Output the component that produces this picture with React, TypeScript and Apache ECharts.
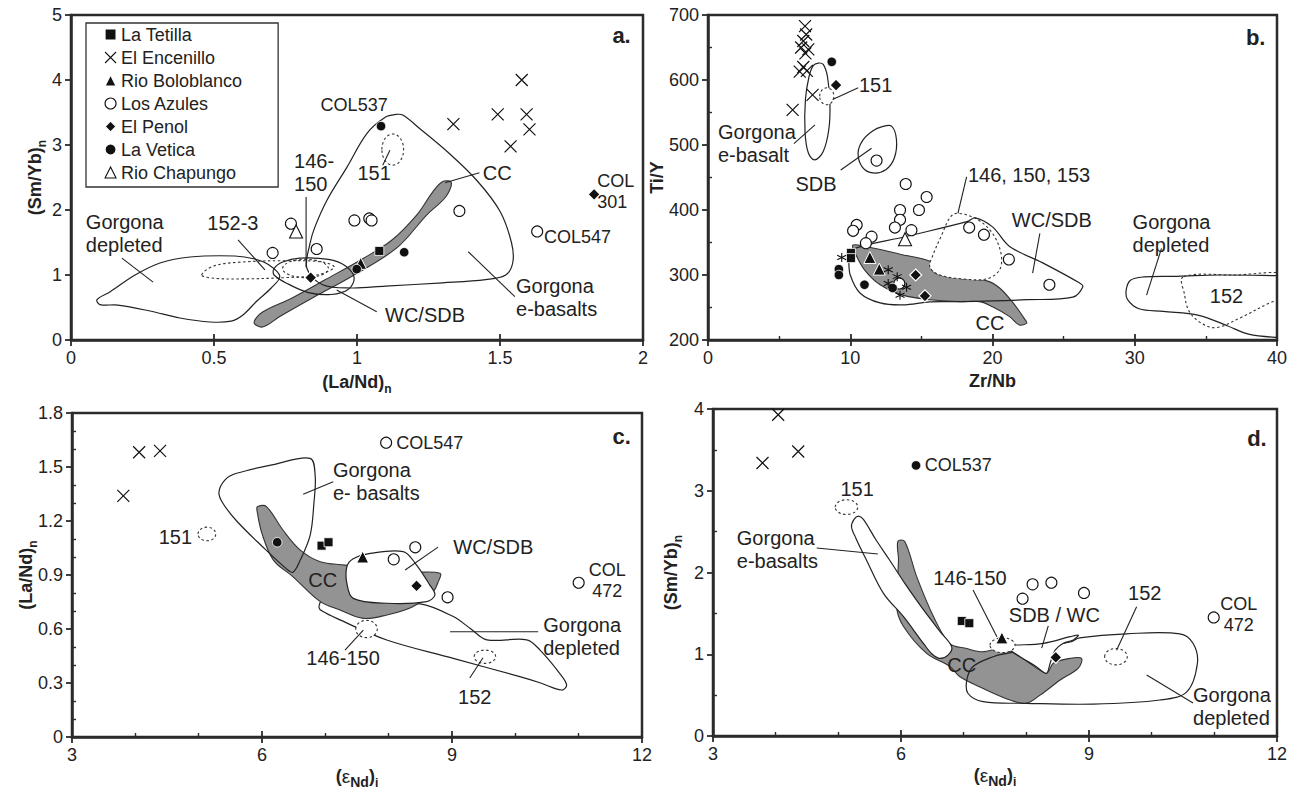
import React, { useEffect, useRef } from "react";
import * as echarts from "echarts";

const FONT = "'Liberation Sans', Arial, Helvetica, sans-serif";
const INK = "#222";
const FRAME = "#2b2b2b";
const GREY = "#939393";
const CROSS = "path://M0,0L10,10M10,0L0,10";
const STAR = "path://M5,0L5,10M0.7,2.5L9.3,7.5M0.7,7.5L9.3,2.5";

// ---------- tick labels ----------
const A_X_TICKS = ["0", "0.5", "1", "1.5", "2"];
const A_Y_TICKS = ["0", "1", "2", "3", "4", "5"];
const B_X_TICKS = ["0", "10", "20", "30", "40"];
const B_Y_TICKS = ["200", "300", "400", "500", "600", "700"];
const C_X_TICKS = ["3", "6", "9", "12"];
const C_Y_TICKS = ["0", "0.3", "0.6", "0.9", "1.2", "1.5", "1.8"];
const D_X_TICKS = ["3", "6", "9", "12"];
const D_Y_TICKS = ["0", "1", "2", "3", "4"];

// ---------- sample groups ----------
const GROUP_NAMES = ["La Tetilla", "El Encenillo", "Rio Boloblanco", "Los Azules", "El Penol", "La Vetica", "Rio Chapungo"];

// ---------- panel a : (La/Nd)n vs (Sm/Yb)n ----------
const A_TETILLA = [[1.078, 1.37]];
const A_ENCENILLO = [[1.337, 3.32], [1.492, 3.47], [1.576, 4.0], [1.593, 3.47], [1.603, 3.24], [1.537, 2.98]];
const A_BOLOBLANCO = [[1.013, 1.18]];
const A_AZULES = [[0.705, 1.34], [0.769, 1.79], [0.859, 1.4], [0.991, 1.84], [1.043, 1.87], [1.051, 1.84], [1.358, 1.985], [1.63, 1.67]];
const A_PENOL = [[0.838, 0.96], [1.829, 2.24]];
const A_VETICA = [[1.084, 3.29], [0.999, 1.09], [1.165, 1.35]];
const A_CHAPUNGO = [[0.787, 1.67]];

const A_GORG_DEP = [[0.091, 0.62], [0.136, 0.74], [0.224, 1.0], [0.311, 1.185], [0.416, 1.277], [0.573, 1.292], [0.643, 1.246], [0.69, 1.16], [0.73, 0.98], [0.7, 0.8], [0.65, 0.6], [0.6, 0.38], [0.56, 0.29], [0.486, 0.277], [0.381, 0.338], [0.276, 0.446], [0.164, 0.538], [0.101, 0.545]];
const A_152_3 = [[0.457, 1.0], [0.5, 1.14], [0.6, 1.2], [0.75, 1.22], [0.88, 1.2], [0.92, 1.12], [0.86, 1.0], [0.75, 0.96], [0.6, 0.94], [0.5, 0.95]];
const A_WCSDB = [[0.71, 1.1], [0.74, 1.2], [0.8, 1.26], [0.9, 1.24], [0.96, 1.14], [0.99, 0.96], [0.97, 0.78], [0.91, 0.7], [0.83, 0.73], [0.76, 0.86], [0.71, 1.0]];
const A_CC = [[0.64, 0.27], [0.67, 0.43], [0.77, 0.64], [0.89, 0.93], [1.02, 1.25], [1.12, 1.53], [1.21, 1.93], [1.265, 2.28], [1.3, 2.44], [1.33, 2.42], [1.31, 2.2], [1.245, 1.93], [1.14, 1.42], [0.99, 1.0], [0.85, 0.66], [0.73, 0.36], [0.67, 0.2]];
const A_EBAS = [[0.825, 1.1], [0.836, 1.49], [0.853, 1.74], [0.895, 2.15], [0.965, 2.66], [1.035, 3.18], [1.1, 3.43], [1.135, 3.47], [1.16, 3.46], [1.22, 3.25], [1.32, 2.88], [1.42, 2.45], [1.5, 1.98], [1.54, 1.5], [1.545, 1.2], [1.52, 1.0], [1.45, 0.93], [1.3, 0.88], [1.1, 0.83], [0.98, 0.8], [0.88, 0.85]];
const A_146_150 = [0.82, 1.1, 0.08, 0.14];
const A_151 = [1.125, 2.93, 0.038, 0.24];

// ---------- panel b : Zr/Nb vs Ti/Y ----------
const B_TETILLA = [[10.05, 334], [10.05, 326]];
const B_ENCENILLO = [[6.82, 683], [6.9, 670], [6.7, 660], [6.55, 650], [7.05, 647], [6.85, 641], [6.45, 613], [6.95, 614], [6.7, 620], [7.35, 577], [5.95, 554]];
const B_BOLOBLANCO = [[11.38, 327], [12.04, 309]];
const B_AZULES = [[13.9, 440], [15.37, 420], [13.5, 400], [14.83, 400], [13.5, 385], [13.14, 373], [14.3, 369], [10.45, 377], [10.2, 368], [11.5, 359], [11.1, 349], [18.36, 373], [19.4, 362], [21.15, 324], [24.0, 285], [11.85, 476], [13.45, 287]];
const B_PENOL = [[9.0, 592], [14.6, 300], [15.25, 268]];
const B_VETICA = [[8.7, 628], [9.2, 309], [9.2, 300], [11.0, 285], [12.98, 280]];
const B_CHAPUNGO = [[13.85, 355]];
const B_STAR = [[9.4, 327], [12.67, 308], [13.3, 297.5], [12.67, 287], [13.96, 281], [13.5, 269]];

const B_EBAS = [[7.75, 626], [8.1, 624], [8.4, 605], [8.57, 565], [8.5, 525], [8.1, 490], [7.5, 477], [7.05, 488], [6.82, 520], [6.85, 570], [7.1, 605], [7.4, 622]];
const B_151 = [8.35, 575, 0.5, 13];
const B_SDB = [[12.2, 528], [12.9, 529], [13.25, 508], [13.1, 480], [12.5, 462], [11.6, 457], [10.85, 466], [10.55, 488], [10.9, 508], [11.6, 522]];
const B_WCSDB = [[9.93, 338], [14.0, 359.6], [18.2, 382], [18.8, 388], [20.0, 374], [21.2, 344], [23.5, 319], [26.1, 288], [26.35, 282], [25.65, 266], [22.4, 262], [17.7, 259], [15.6, 258.6], [13.7, 254], [12.1, 257], [10.7, 272], [10.0, 300], [9.9, 323]];
const B_CC = [[10.2, 346], [11.5, 342], [13.5, 332], [15.6, 321], [15.7, 309], [16.3, 300], [17.9, 294], [19.6, 291], [20.5, 280], [21.45, 257], [22.3, 231], [22.4, 226], [21.9, 223], [21.2, 236], [20.0, 251], [19.1, 259], [17.7, 259], [15.6, 262], [13.7, 269], [12.1, 285], [11.0, 308], [10.4, 331]];
const B_146 = [[15.6, 312], [15.8, 330], [16.4, 360], [17.0, 388], [17.5, 395], [18.9, 386], [20.0, 364], [20.6, 333], [20.5, 308], [19.6, 294], [17.9, 294], [16.3, 300]];
const B_GORG_DEP = [[29.4, 277], [29.7, 292], [30.6, 297], [33, 298], [36, 300], [40, 299], [42, 298], [42, 204], [40, 204], [38, 209], [36.5, 222], [34.5, 238], [32, 244], [30.3, 248], [29.5, 262]];
const B_152 = [[33.4, 297], [33.5, 270], [33.8, 245], [34.6, 227], [35.7, 219], [37.5, 235], [39.7, 259], [41, 266], [41, 300], [37, 300]];

// ---------- panel c : (eNd)i vs (La/Nd)n ----------
const C_TETILLA = [[6.94, 1.063], [7.05, 1.082]];
const C_ENCENILLO = [[4.06, 1.582], [4.39, 1.59], [3.81, 1.34]];
const C_BOLOBLANCO = [[7.59, 1.0]];
const C_AZULES = [[7.96, 1.635], [8.08, 0.987], [8.42, 1.054], [8.93, 0.776], [11.0, 0.857]];
const C_PENOL = [[8.44, 0.84]];
const C_VETICA = [[6.24, 1.082]];

const C_EBAS = [[5.32, 1.36], [5.42, 1.43], [5.6, 1.465], [6.2, 1.515], [6.76, 1.548], [6.84, 1.45], [6.82, 1.3], [6.76, 1.12], [6.6, 0.98], [6.49, 0.915], [6.4, 0.93], [6.0, 1.06], [5.6, 1.2], [5.38, 1.3]];
const C_CC = [[5.93, 1.28], [6.07, 1.28], [6.33, 1.15], [6.6, 1.04], [6.92, 0.974], [7.31, 0.955], [7.8, 0.93], [8.3, 0.915], [8.81, 0.91], [8.78, 0.86], [8.7, 0.807], [8.38, 0.724], [7.97, 0.678], [7.6, 0.659], [7.23, 0.706], [6.92, 0.752], [6.49, 0.89], [6.18, 0.983], [6.0, 1.13], [5.92, 1.26]];
const C_WCSDB = [[7.34, 0.946], [7.44, 0.99], [7.71, 1.02], [8.23, 1.03], [8.42, 0.965], [8.65, 0.844], [8.73, 0.789], [8.6, 0.752], [7.97, 0.743], [7.44, 0.77], [7.34, 0.854]];
const C_GORG_DEP = [[6.9, 0.72], [6.95, 0.76], [7.1, 0.75], [7.5, 0.73], [8.0, 0.72], [8.5, 0.74], [9.02, 0.669], [9.3, 0.6], [9.55, 0.54], [10.18, 0.54], [10.39, 0.483], [10.7, 0.354], [10.81, 0.289], [10.73, 0.261], [10.4, 0.3], [10.07, 0.335], [9.02, 0.437], [7.97, 0.539], [7.18, 0.659], [6.95, 0.7]];
const C_151 = [5.13, 1.128, 0.14, 0.038];
const C_146 = [7.65, 0.6, 0.17, 0.048];
const C_152 = [9.52, 0.446, 0.17, 0.037];

// ---------- panel d : (eNd)i vs (Sm/Yb)n ----------
const D_TETILLA = [[6.97, 1.407], [7.09, 1.38]];
const D_ENCENILLO = [[4.04, 3.93], [3.79, 3.34], [4.36, 3.48]];
const D_BOLOBLANCO = [[7.61, 1.2]];
const D_AZULES = [[7.94, 1.68], [8.1, 1.855], [8.4, 1.875], [8.92, 1.75], [10.99, 1.45]];
const D_PENOL = [[8.47, 0.962]];
const D_VETICA = [[6.24, 3.31]];

const D_CC = [[5.95, 2.38], [6.06, 2.38], [6.25, 1.95], [6.52, 1.46], [6.78, 1.13], [7.05, 1.07], [7.3, 1.03], [7.63, 1.07], [7.9, 0.97], [8.32, 0.77], [8.43, 0.89], [8.7, 0.95], [8.88, 0.95], [8.83, 0.83], [8.54, 0.685], [8.22, 0.5], [8.0, 0.4], [7.74, 0.44], [7.26, 0.6], [6.94, 0.725], [6.78, 0.85], [6.41, 1.01], [6.04, 1.34], [5.93, 1.58], [5.96, 2.15]];
const D_GORG_DEP = [[7.69, 1.01], [7.47, 0.97], [7.15, 0.85], [7.05, 0.685], [7.07, 0.52], [7.31, 0.42], [8.0, 0.4], [9.07, 0.39], [10.13, 0.44], [10.56, 0.54], [10.73, 0.89], [10.66, 1.134], [10.45, 1.25], [9.6, 1.25], [8.85, 1.2], [8.7, 1.15]];
const D_EBAS = [[5.21, 2.56], [5.25, 2.65], [5.32, 2.69], [5.4, 2.65], [5.6, 2.4], [5.82, 2.15], [6.05, 1.88], [6.25, 1.66], [6.45, 1.45], [6.62, 1.28], [6.81, 1.09], [6.75, 0.99], [6.62, 0.95], [6.5, 1.0], [6.36, 1.13], [6.04, 1.46], [5.72, 1.745], [5.45, 2.15], [5.28, 2.42]];
const D_SDBWC = [[7.71, 1.113], [7.85, 1.113], [8.27, 1.134], [8.7, 1.215], [8.83, 1.235], [8.75, 1.174], [8.59, 1.134], [8.46, 1.05], [8.38, 0.89], [8.32, 0.767], [8.16, 0.848], [7.9, 0.97], [7.71, 1.07]];
const D_151 = [5.13, 2.8, 0.18, 0.09];
const D_146 = [7.62, 1.11, 0.2, 0.09];
const D_152 = [9.43, 0.97, 0.18, 0.1];

// ---------- annotations (data coordinates) ----------
const A_LABELS = [
  { t: "a.", x: 1.925, y: 4.69, al: "center", b: true, fs: 22 },
  { t: "COL537", x: 0.99, y: 3.62, al: "center", fs: 18 },
  { t: "146-\n150", x: 0.78, y: 2.57, al: "left" },
  { t: "151", x: 1.06, y: 2.57, al: "center" },
  { t: "CC", x: 1.44, y: 2.57, al: "left" },
  { t: "COL\n301", x: 1.84, y: 2.28, al: "left", fs: 18, lh: 21 },
  { t: "COL547", x: 1.654, y: 1.585, al: "left", fs: 18 },
  { t: "Gorgona\ne-basalts", x: 1.556, y: 0.66, al: "left" },
  { t: "WC/SDB", x: 1.098, y: 0.385, al: "left" },
  { t: "Gorgona\ndepleted", x: 0.052, y: 1.64, al: "left" },
  { t: "152-3", x: 0.566, y: 1.8, al: "center" },
];
const A_LEADERS = [[0.822, 2.2, 0.822, 1.12], [1.09, 2.69, 1.115, 2.92], [1.308, 2.42, 1.428, 2.574], [1.389, 1.358, 1.552, 0.666], [1.069, 0.436, 0.929, 0.77], [0.178, 1.26, 0.287, 0.89], [0.584, 1.54, 0.678, 1.08]];

const B_LABELS = [
  { t: "b.", x: 38.5, y: 666, al: "center", b: true, fs: 22 },
  { t: "151", x: 10.61, y: 592, al: "left" },
  { t: "Gorgona\ne-basalt", x: 0.7, y: 503, al: "left" },
  { t: "SDB", x: 7.59, y: 440, al: "center" },
  { t: "146, 150, 153", x: 18.27, y: 454, al: "left" },
  { t: "WC/SDB", x: 24.17, y: 385, al: "center" },
  { t: "Gorgona\ndepleted", x: 29.85, y: 364.6, al: "left" },
  { t: "152", x: 36.45, y: 267, al: "center" },
  { t: "CC", x: 19.82, y: 226.6, al: "center" },
];
const B_LEADERS = [[8.76, 570, 10.56, 588], [6.04, 502, 7.52, 531], [9.33, 461.5, 11.5, 495], [18.18, 451, 17.57, 395], [23.33, 364, 22.82, 303], [31.88, 341, 30.83, 269]];

const C_LABELS = [
  { t: "c.", x: 11.68, y: 1.668, al: "center", b: true, fs: 22 },
  { t: "COL547", x: 8.12, y: 1.633, al: "left", fs: 18 },
  { t: "Gorgona\ne- basalts", x: 7.12, y: 1.42, al: "left" },
  { t: "151", x: 4.895, y: 1.11, al: "right" },
  { t: "WC/SDB", x: 9.02, y: 1.055, al: "left" },
  { t: "CC", x: 6.96, y: 0.87, al: "center" },
  { t: "COL\n472", x: 11.45, y: 0.872, al: "center", fs: 18, lh: 21 },
  { t: "Gorgona\ndepleted", x: 10.44, y: 0.56, al: "left" },
  { t: "146-150", x: 7.28, y: 0.44, al: "center" },
  { t: "152", x: 9.36, y: 0.222, al: "center" },
];
const C_LEADERS = [[6.65, 1.348, 7.125, 1.418], [8.78, 1.055, 8.26, 0.928], [8.97, 0.585, 10.36, 0.585], [7.31, 0.483, 7.6, 0.594], [9.28, 0.328, 9.49, 0.44]];

const D_LABELS = [
  { t: "d.", x: 11.68, y: 3.645, al: "center", b: true, fs: 22 },
  { t: "COL537", x: 6.38, y: 3.315, al: "left", fs: 18 },
  { t: "151", x: 5.3, y: 3.02, al: "center" },
  { t: "Gorgona\ne-basalts", x: 3.38, y: 2.28, al: "left" },
  { t: "146-150", x: 7.1, y: 1.93, al: "center" },
  { t: "SDB / WC", x: 7.72, y: 1.48, al: "left" },
  { t: "152", x: 9.89, y: 1.75, al: "center" },
  { t: "COL\n472", x: 11.39, y: 1.49, al: "center", fs: 18, lh: 21 },
  { t: "Gorgona\ndepleted", x: 10.66, y: 0.355, al: "left" },
  { t: "CC", x: 6.97, y: 0.87, al: "center" },
];
const D_LEADERS = [[4.655, 2.3, 5.63, 2.226], [7.15, 1.786, 7.53, 1.215], [8.35, 1.346, 8.245, 1.076], [9.76, 1.58, 9.44, 1.05], [9.92, 0.746, 10.66, 0.404]];

// ---------- styles ----------
const GROUP_STYLE: Record<string, any> = {
  "La Tetilla": { symbol: "rect", size: 9, color: "#111", border: "#fff", bw: 0.8 },
  "El Encenillo": { symbol: CROSS, size: 12, color: "rgba(0,0,0,0)", border: "#111", bw: 1.2 },
  "Rio Boloblanco": { symbol: "triangle", size: 12, color: "#111", border: "#fff", bw: 1 },
  "Los Azules": { symbol: "circle", size: 11, color: "#fff", border: "#111", bw: 1.1 },
  "El Penol": { symbol: "diamond", size: 12, color: "#111", border: "#fff", bw: 1.2 },
  "La Vetica": { symbol: "circle", size: 9.5, color: "#111", border: "#fff", bw: 0.8 },
  "Rio Chapungo": { symbol: "triangle", size: 13, color: "#fff", border: "#111", bw: 1.1 },
  asterisk: { symbol: STAR, size: 9, color: "rgba(0,0,0,0)", border: "#111", bw: 1.1 },
};

const EPS = "{m|(}{e|ε}{s2|Nd}{m|)}{s|i}";

const PANELS = [
  {
    grid: { left: 71, top: 15, width: 572, height: 325 },
    x: { min: 0, max: 2, interval: 0.5, ticks: A_X_TICKS, minor: 0 },
    y: { min: 0, max: 5, interval: 1, ticks: A_Y_TICKS, minor: 0 },
    xName: "{m|(La/Nd)}{s|n}", yName: "{m|(Sm/Yb)}{s|n}", xGap: 33, yGap: 27,
    points: { "La Tetilla": A_TETILLA, "El Encenillo": A_ENCENILLO, "Rio Boloblanco": A_BOLOBLANCO, "Los Azules": A_AZULES, "El Penol": A_PENOL, "La Vetica": A_VETICA, "Rio Chapungo": A_CHAPUNGO },
    fields: [
      { pts: A_CC, kind: "grey" }, { pts: A_GORG_DEP, kind: "open" }, { pts: A_152_3, kind: "dot" },
      { pts: A_WCSDB, kind: "open" }, { pts: A_EBAS, kind: "open" }, { ell: A_146_150, kind: "dot" }, { ell: A_151, kind: "dotW" },
    ],
    labels: A_LABELS, leaders: A_LEADERS,
  },
  {
    grid: { left: 708, top: 15, width: 569, height: 325 },
    x: { min: 0, max: 40, interval: 10, ticks: B_X_TICKS, minor: 2 },
    y: { min: 200, max: 700, interval: 100, ticks: B_Y_TICKS, minor: 2 },
    xName: "{m|Zr/Nb}", yName: "{m|Ti/Y}", xGap: 32, yGap: 42,
    points: { "La Tetilla": B_TETILLA, "El Encenillo": B_ENCENILLO, "Rio Boloblanco": B_BOLOBLANCO, "Los Azules": B_AZULES, "El Penol": B_PENOL, "La Vetica": B_VETICA, "Rio Chapungo": B_CHAPUNGO, asterisk: B_STAR },
    fields: [
      { pts: B_CC, kind: "grey" }, { pts: B_146, kind: "dotW" }, { pts: B_WCSDB, kind: "open" },
      { pts: B_EBAS, kind: "open" }, { ell: B_151, kind: "dotW" }, { pts: B_SDB, kind: "open" },
      { pts: B_GORG_DEP, kind: "open" }, { pts: B_152, kind: "dot" },
    ],
    labels: B_LABELS, leaders: B_LEADERS,
  },
  {
    grid: { left: 72, top: 413, width: 570, height: 324 },
    x: { min: 3, max: 12, interval: 3, ticks: C_X_TICKS, minor: 3 },
    y: { min: 0, max: 1.8, interval: 0.3, ticks: C_Y_TICKS, minor: 3 },
    xName: EPS, yName: "{m|(La/Nd)}{s|n}", xGap: 30, yGap: 37,
    points: { "La Tetilla": C_TETILLA, "El Encenillo": C_ENCENILLO, "Rio Boloblanco": C_BOLOBLANCO, "Los Azules": C_AZULES, "El Penol": C_PENOL, "La Vetica": C_VETICA },
    fields: [
      { pts: C_GORG_DEP, kind: "white" }, { pts: C_CC, kind: "grey" }, { pts: C_WCSDB, kind: "white" },
      { pts: C_EBAS, kind: "open" }, { ell: C_151, kind: "dotW" }, { ell: C_146, kind: "dotW" }, { ell: C_152, kind: "dotW" },
    ],
    labels: C_LABELS, leaders: C_LEADERS,
  },
  {
    grid: { left: 713, top: 409, width: 564, height: 327 },
    x: { min: 3, max: 12, interval: 3, ticks: D_X_TICKS, minor: 3 },
    y: { min: 0, max: 4, interval: 1, ticks: D_Y_TICKS, minor: 2 },
    xName: EPS, yName: "{m|(Sm/Yb)}{s|n}", xGap: 30, yGap: 33,
    points: { "La Tetilla": D_TETILLA, "El Encenillo": D_ENCENILLO, "Rio Boloblanco": D_BOLOBLANCO, "Los Azules": D_AZULES, "El Penol": D_PENOL, "La Vetica": D_VETICA },
    fields: [
      { pts: D_CC, kind: "grey" }, { pts: D_GORG_DEP, kind: "open" }, { pts: D_EBAS, kind: "white" },
      { pts: D_SDBWC, kind: "white" }, { ell: D_151, kind: "dotW" }, { ell: D_146, kind: "dotW" }, { ell: D_152, kind: "dotW" },
    ],
    labels: D_LABELS, leaders: D_LEADERS,
  },
];

const NAME_STYLE = {
  fontFamily: FONT, fontSize: 18, fontWeight: "bold", color: INK,
  rich: {
    m: { fontFamily: FONT, fontSize: 18, fontWeight: "bold", color: INK, lineHeight: 18, verticalAlign: "top" },
    e: { fontFamily: FONT, fontSize: 19, fontWeight: "normal", color: INK, lineHeight: 18, verticalAlign: "top" },
    s: { fontFamily: FONT, fontSize: 12, fontWeight: "bold", color: INK, lineHeight: 12, padding: [10, 0, 0, 0], verticalAlign: "top" },
    s2: { fontFamily: FONT, fontSize: 14, fontWeight: "bold", color: INK, lineHeight: 14, padding: [8, 0, 0, 0], verticalAlign: "top" },
  },
};

function fieldStyle(kind: string): any {
  if (kind === "grey") return { fill: GREY, stroke: "#333", lineWidth: 1.1 };
  if (kind === "white") return { fill: "#fff", stroke: "#222", lineWidth: 1.2 };
  if (kind === "open") return { fill: "none", stroke: "#222", lineWidth: 1.2 };
  if (kind === "dotW") return { fill: "#fff", stroke: "#333", lineWidth: 1.1, lineDash: [2.5, 2.5] };
  return { fill: "none", stroke: "#333", lineWidth: 1.1, lineDash: [2.5, 2.5] };
}

function tickFmt(ax: any) {
  return (v: number) => {
    const i = Math.round((v - ax.min) / ax.interval);
    return ax.ticks[i] ?? "";
  };
}

function buildOption() {
  const grid: any[] = [];
  const xAxis: any[] = [];
  const yAxis: any[] = [];
  const series: any[] = [];
  const axisLabel = (ax: any) => ({
    show: true, margin: 9, fontSize: 18, fontFamily: FONT, color: INK,
    formatter: tickFmt(ax), showMinLabel: true, showMaxLabel: true,
  });

  PANELS.forEach((P, i) => {
    grid.push({
      ...P.grid, show: true, borderColor: FRAME, borderWidth: 2.5, backgroundColor: "#fff",
      containLabel: false, outerBoundsMode: "none",
    });
    xAxis.push({
      type: "value", gridIndex: i, position: "bottom", min: P.x.min, max: P.x.max, interval: P.x.interval,
      axisLine: { show: true, onZero: false, lineStyle: { color: FRAME, width: 2.5 } },
      axisTick: { show: true, length: 6, lineStyle: { color: FRAME, width: 1.8 } },
      axisLabel: axisLabel(P.x), splitLine: { show: false }, minorTick: { show: false },
      name: P.xName, nameLocation: "middle", nameGap: P.xGap, nameTextStyle: NAME_STYLE, nameMoveOverlap: false,
    });
    yAxis.push({
      type: "value", gridIndex: i, position: "left", min: P.y.min, max: P.y.max, interval: P.y.interval,
      axisLine: { show: true, onZero: false, lineStyle: { color: FRAME, width: 2.5 } },
      axisTick: { show: true, length: 6, lineStyle: { color: FRAME, width: 1.8 } },
      axisLabel: axisLabel(P.y), splitLine: { show: false }, minorTick: { show: false },
      name: P.yName, nameLocation: "middle", nameGap: P.yGap, nameTextStyle: NAME_STYLE, nameMoveOverlap: false,
    });
  });
  // inner tick axes (ticks pointing into the plot)
  PANELS.forEach((P, i) => {
    xAxis.push({
      type: "value", gridIndex: i, position: "top", offset: -P.grid.height,
      min: P.x.min, max: P.x.max, interval: P.x.interval,
      axisLine: { show: false, onZero: false }, axisLabel: { show: false }, splitLine: { show: false },
      axisTick: { show: true, length: 6, lineStyle: { color: FRAME, width: 1.8 } },
      minorTick: { show: P.x.minor > 0, splitNumber: P.x.minor || 2, length: 4, lineStyle: { color: FRAME, width: 1.4 } },
    });
    yAxis.push({
      type: "value", gridIndex: i, position: "right", offset: -P.grid.width,
      min: P.y.min, max: P.y.max, interval: P.y.interval,
      axisLine: { show: false, onZero: false }, axisLabel: { show: false }, splitLine: { show: false },
      axisTick: { show: false },
      minorTick: { show: P.y.minor > 0, splitNumber: P.y.minor || 2, length: 4, lineStyle: { color: FRAME, width: 1.4 } },
    });
  });

  PANELS.forEach((P, i) => {
    // fields
    P.fields.forEach((f: any) => {
      const style = fieldStyle(f.kind);
      if (f.pts) {
        const pts = f.pts;
        series.push({
          type: "custom", name: "field", xAxisIndex: i, yAxisIndex: i, clip: true, silent: true, z: 2,
          data: pts,
          renderItem: (params: any, api: any) => {
            if (params.dataIndex !== 0) return null;
            return { type: "polygon", shape: { points: pts.map((p: number[]) => api.coord(p)), smooth: 0.35 }, style };
          },
        });
      } else {
        series.push({
          type: "custom", name: "field", xAxisIndex: i, yAxisIndex: i, clip: true, silent: true, z: 2,
          data: [f.ell], encode: { x: 0, y: 1 },
          renderItem: (params: any, api: any) => {
            const c = api.coord([api.value(0), api.value(1)]);
            const s = api.size([api.value(2), api.value(3)]);
            return { type: "ellipse", shape: { cx: c[0], cy: c[1], rx: s[0], ry: s[1] }, style };
          },
        });
      }
    });
    // points
    Object.keys(P.points).forEach((name) => {
      const g = GROUP_STYLE[name];
      series.push({
        type: "scatter", name, xAxisIndex: i, yAxisIndex: i, silent: true, z: 4,
        data: (P.points as any)[name], symbol: g.symbol, symbolSize: g.size,
        itemStyle: { color: g.color, borderColor: g.border, borderWidth: g.bw, opacity: 1 },
      });
    });
    // leaders
    series.push({
      type: "custom", name: "leader", xAxisIndex: i, yAxisIndex: i, silent: true, z: 5,
      dimensions: ["x1", "y1", "x2", "y2"], encode: { x: [0, 2], y: [1, 3] },
      data: P.leaders,
      renderItem: (params: any, api: any) => {
        const a = api.coord([api.value(0), api.value(1)]);
        const b = api.coord([api.value(2), api.value(3)]);
        return { type: "line", shape: { x1: a[0], y1: a[1], x2: b[0], y2: b[1] }, style: { stroke: "#222", lineWidth: 1.1 } };
      },
    });
    // labels
    const labels = P.labels;
    series.push({
      type: "custom", name: "label", xAxisIndex: i, yAxisIndex: i, silent: true, z: 6,
      data: labels.map((l: any) => [l.x, l.y]),
      renderItem: (params: any, api: any) => {
        const l: any = labels[params.dataIndex];
        const p = api.coord([api.value(0), api.value(1)]);
        const al = l.al || "left";
        return {
          type: "text", x: p[0], y: p[1],
          style: {
            text: l.t, fill: INK, fontSize: l.fs || 20, fontFamily: FONT, fontWeight: l.b ? "bold" : "normal",
            align: al, verticalAlign: "middle", textAlign: al, textVerticalAlign: "middle", lineHeight: l.lh || 23,
          },
        };
      },
    });
  });

  return {
    animation: false,
    backgroundColor: "#fff",
    grid, xAxis, yAxis, series,
    legend: {
      data: GROUP_NAMES, orient: "vertical", left: 86, top: 23,
      itemWidth: 11, itemHeight: 11, itemGap: 4, padding: [2, 36, 5, 18.5],
      borderColor: "#333", borderWidth: 1.3, backgroundColor: "#fff",
      selectedMode: false, z: 20,
      itemStyle: { borderWidth: 1.1 },
      textStyle: { fontSize: 18, fontFamily: FONT, color: INK, lineHeight: 19 },
    },
  };
}

export default function App() {
  const ref = useRef<HTMLDivElement>(null);
  useEffect(() => {
    if (!ref.current) return;
    const chart = echarts.init(ref.current, undefined, { renderer: "svg" });
    chart.setOption(buildOption() as any);
    return () => chart.dispose();
  }, []);
  return <div ref={ref} style={{ position: "fixed", left: 0, top: 0, width: 1304, height: 793, background: "#fff" }} />;
}
